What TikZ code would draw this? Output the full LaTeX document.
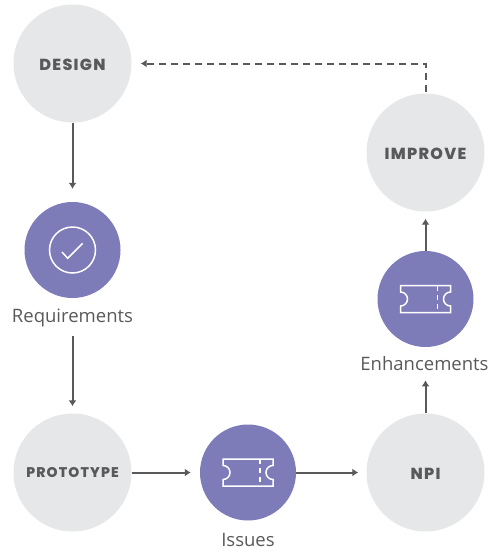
\documentclass[tikz,border=0pt]{standalone}
\usepackage{fontspec}
\setmainfont{Open Sans}
\newfontfamily\headfont[LetterSpace=8,BoldFont={Poppins ExtraBold}]{Poppins}
\usetikzlibrary{arrows.meta}
\definecolor{stagegrey}{HTML}{E6E7E8}
\definecolor{itempurple}{HTML}{7D7BB8}
\definecolor{inkgrey}{HTML}{58595B}
\tikzset{
  stage/.style = {shape=circle, fill=stagegrey, minimum size=118pt, inner sep=0pt,
    text=inkgrey, font=\headfont\bfseries\fontsize{#1}{#1}\selectfont},
  stage/.default = 16pt,
  bigstage/.style = {stage, text height=13pt, text depth=0pt},
  item/.style = {shape=circle, fill=itempurple, minimum size=96pt, inner sep=0pt},
  caption/.style = {text=inkgrey, inner sep=0pt, anchor=base, font=\fontsize{18.5pt}{22pt}\selectfont},
  link/.style = {draw=inkgrey, line width=2pt, -{Latex[length=6pt,width=8pt]}},
  ticket/.pic = {
    \draw[white, line width=1.5pt] (-25,-13.5) -- (25,-13.5) -- (25,-7)
      arc[start angle=90, end angle=270, radius=7pt] -- (25,13.5) -- (-25,13.5) -- (-25,7)
      arc[start angle=-90, end angle=90, radius=7pt] -- cycle;
    \draw[white, line width=1.5pt, dash pattern=on 5pt off 4pt] (12,-13.5) -- (12,13.5);
  }
}
\begin{document}
\begin{tikzpicture}[x=1pt, y=-1pt]
  \useasboundingbox (0,0) rectangle (488,550);
  % stages
  \node[bigstage] (design) at (72.5,63.5) {DESIGN};
  \node[stage=14pt] (prototype) at (72.5,472.5) {PROTOTYPE};
  \node[bigstage] (npi) at (425.5,472.5) {NPI};
  \node[bigstage] (improve) at (425.5,152.5) {IMPROVE};
  % items and their captions
  \node[item] (requirements) at (72.5,250) {};
  \node[caption] (reqlabel) at (72.5,322) {Requirements};
  \node[item] (issues) at (248,472.5) {};
  \node[caption] (isslabel) at (248,546) {Issues};
  \node[item] (enhancements) at (425.5,299) {};
  \node[caption] (enhlabel) at (424.5,370) {Enhancements};
  % icons
  \draw[white, line width=1.5pt] (requirements) circle[radius=23pt];
  \draw[white, line width=1.5pt] (62,252) -- (67.7,258.3) -- (82.7,243.3);
  \pic at (issues) {ticket};
  \pic at (enhancements) {ticket};
  % connectors
  \draw[link, shorten >=13pt] (design) -- (requirements);
  \draw[link, shorten <=9pt, shorten >=7pt] (reqlabel) -- (prototype);
  \draw[link, shorten >=9pt] (prototype) -- (issues);
  \draw[link, shorten >=8pt] (issues) -- (npi);
  \draw[link, shorten >=10pt] (npi) -- (npi |- enhlabel.south);
  \draw[link, shorten >=7pt] (enhancements) -- (improve);
  \coordinate (turn) at (improve.north |- design);
  \draw[link, dash pattern=on 7pt off 5pt, shorten <=1pt, shorten >=9pt] (improve) -- (turn) -- (design);
\end{tikzpicture}
\end{document}
